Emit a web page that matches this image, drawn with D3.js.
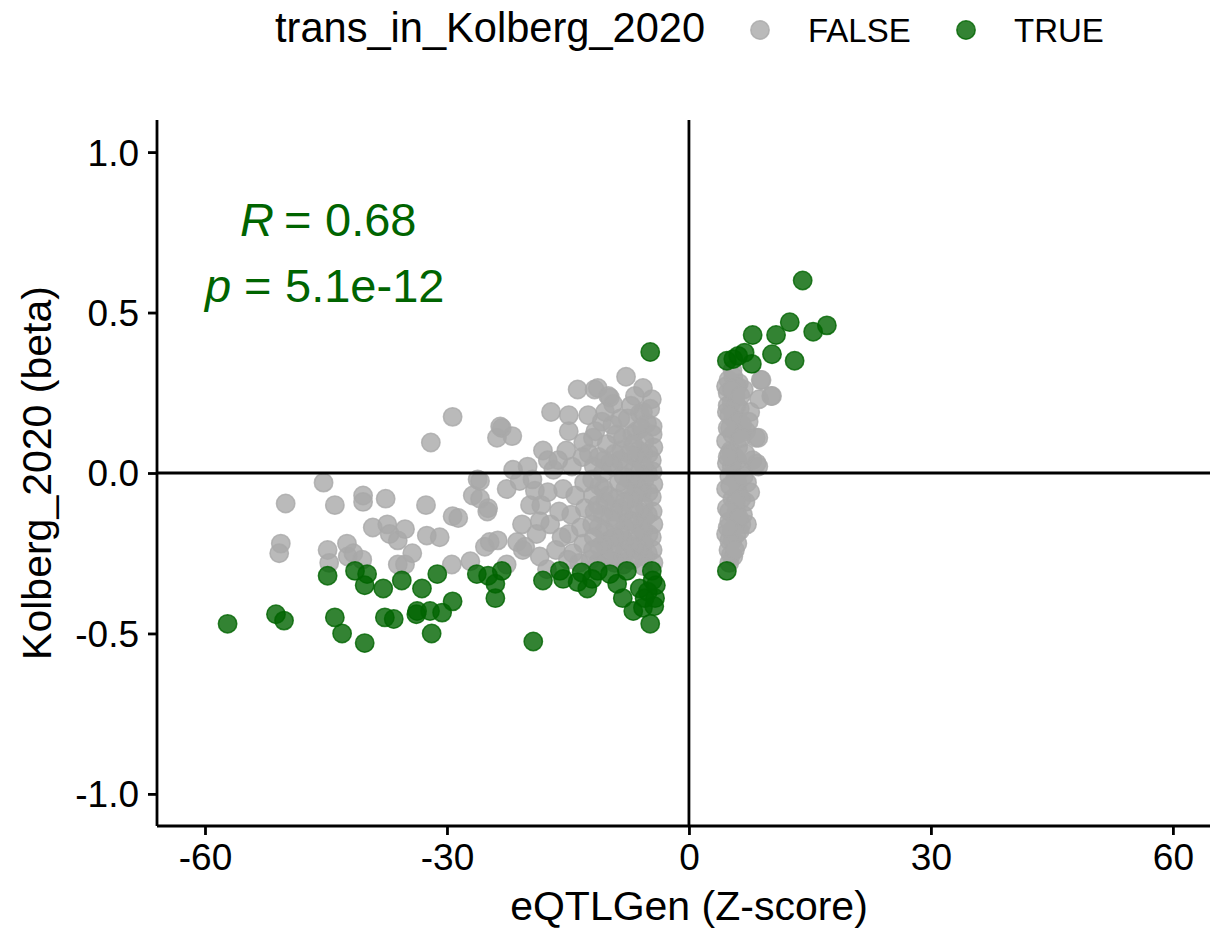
<!DOCTYPE html>
<html>
<head>
<meta charset="utf-8">
<script src="https://cdn.jsdelivr.net/npm/d3@7"></script>
<style>
  body { margin: 0; background: #fff; }
  svg { display: block; font-family: "Liberation Sans", Arial, sans-serif; }
</style>
</head>
<body>
<div id="chart"></div>
<script>
// eQTLGen Z-score vs Kolberg_2020 beta
const groups = ["FALSE", "TRUE"];
const groupColors = ["#a9a9a9", "#006400"];
const xTicks = [-60, -30, 0, 30, 60];
const yTicks = [-1.0, -0.5, 0.0, 0.5, 1.0];

// not trans in Kolberg_2020 (grey)
const falsePoints = [
  // sparse left part
  [-45.3,-0.03],[-50.0,-0.095],[-43.9,-0.10],[-50.6,-0.22],[-50.8,-0.25],[-44.8,-0.24],[-44.6,-0.28],
  [-42.4,-0.22],[-42.3,-0.26],[-40.4,-0.07],[-40.4,-0.09],[-37.6,-0.08],[-32.6,-0.10],[-29.3,0.175],
  [-32.0,0.095],[-29.3,-0.135],[-28.6,-0.14],[-25.0,-0.12],[-26.2,-0.02],[-26.8,-0.07],[-39.2,-0.17],
  [-37.4,-0.16],[-37.1,-0.19],[-36.1,-0.21],[-35.2,-0.175],[-32.5,-0.195],[-30.9,-0.20],[-41.6,-0.25],
  [-40.5,-0.27],[-36.1,-0.285],[-35.2,-0.285],[-34.3,-0.25],[-29.4,-0.285],[-27.1,-0.275],[-25.3,-0.23],
  // middle
  [-23.8,0.11],[-23.2,0.14],[-21.9,0.115],[-23.4,0.145],[-17.1,0.19],[-14.9,0.18],[-12.5,0.18],
  [-13.8,0.26],[-11.7,0.26],[-14.9,0.13],[-13.1,0.095],[-18.1,0.07],[-17.5,0.04],[-21.8,0.01],
  [-20.0,0.02],[-25.9,-0.025],[-22.6,-0.05],[-24.9,-0.11],[-20.7,-0.16],[-24.7,-0.215],[-23.7,-0.21],
  [-21.3,-0.215],[-20.6,-0.24],[-25.9,-0.08],[-22.6,-0.285],[-17.6,-0.30],[-21.0,-0.025],[-19.1,-0.055],
  [-19.7,-0.10],[-18.5,-0.15],[-20.3,-0.23],[-18.5,-0.26],
  // upper edge of the dense block
  [-7.8,0.30],[-5.7,0.265],[-6.7,0.24],[-11.3,0.265],[-9.8,0.235],[-9.5,0.15],[-5.7,0.19],[-4.5,0.145],
  [-11.9,0.11],[-8.2,0.11],[-10.0,0.24],[-9.4,0.215],[-6.1,0.185],[-5.2,0.155],[-10.8,0.16],[-9.0,0.12],
  [-7.6,0.17],[-6.5,0.13],[-8.4,0.07],[-10.2,0.09],[-11.6,0.13],[-12.4,0.06],[-4.6,0.23],[-4.8,0.20],
  [-13.2,0.05],[-14.5,0.02],[-13.0,-0.03],[-14.1,-0.07],[-12.9,-0.11],[-14.6,-0.13],[-13.4,-0.17],
  [-14.9,-0.19],[-13.1,-0.22],[-14.4,-0.25],[-15.6,-0.05],[-16.1,-0.12],[-15.8,-0.20],[-16.5,-0.24],
  [-17.2,-0.16],[-17.5,-0.06],[-16.8,0.01],[-18.3,-0.10],[-18.9,-0.19],[-19.4,-0.02],[-15.2,0.07],
  [-16.2,0.04],[-15.0,-0.27],[-13.6,-0.28],[-12.2,-0.27],
  [-7.2,0.21],[-8.5,0.17],[-10.4,0.19],[-7.0,0.12],[-5.9,0.14],
  // dense block near -5
  [-4.5,0.12],[-4.4,0.08],[-4.6,0.04],[-4.5,0.005],[-4.4,-0.035],[-4.6,-0.075],[-4.5,-0.12],[-4.4,-0.16],
  [-4.6,-0.20],[-4.5,-0.24],[-4.4,-0.28],
  [-5.0,0.06],[-5.1,0.0],[-5.0,-0.06],[-5.1,-0.13],[-5.0,-0.19],[-5.1,-0.25],
  [-5.5,0.10],[-5.7,0.06],[-5.6,0.02],[-5.5,-0.02],[-5.8,-0.06],[-5.6,-0.10],[-5.5,-0.14],[-5.7,-0.18],
  [-5.6,-0.22],[-5.5,-0.26],[-5.7,-0.29],
  [-6.2,0.07],[-6.2,0.0],[-6.3,-0.05],[-6.2,-0.12],[-6.1,-0.17],[-6.3,-0.24],
  [-6.9,0.09],[-6.7,0.05],[-6.8,0.01],[-6.9,-0.03],[-6.7,-0.07],[-6.8,-0.11],[-6.9,-0.15],[-6.7,-0.19],
  [-6.8,-0.23],[-6.9,-0.27],
  [-7.4,0.06],[-7.4,-0.02],[-7.3,-0.08],[-7.5,-0.15],[-7.4,-0.22],[-7.3,-0.27],
  [-8.0,0.03],[-8.1,-0.01],[-7.9,-0.05],[-8.0,-0.09],[-8.2,-0.13],[-7.9,-0.17],[-8.1,-0.21],[-8.0,-0.25],
  [-8.1,-0.285],
  [-8.6,0.04],[-8.7,-0.03],[-8.6,-0.11],[-8.5,-0.19],[-8.7,-0.26],
  [-9.2,0.06],[-9.4,0.02],[-9.1,-0.08],[-9.4,-0.12],[-9.2,-0.16],[-9.3,-0.20],[-9.4,-0.24],[-9.2,-0.28],
  [-9.9,0.03],[-10.0,-0.07],[-9.8,-0.14],[-9.9,-0.21],[-9.9,-0.27],
  [-10.5,0.04],[-10.7,0.0],[-10.6,-0.05],[-10.4,-0.09],[-10.7,-0.13],[-10.5,-0.18],[-10.6,-0.22],[-10.4,-0.26],
  [-11.2,0.05],[-11.1,-0.04],[-11.3,-0.10],[-11.2,-0.17],[-11.1,-0.23],[-11.3,-0.28],
  [-11.8,0.02],[-12.0,-0.02],[-11.9,-0.07],[-11.7,-0.12],[-12.0,-0.16],[-11.8,-0.20],[-11.9,-0.24],
  // column near +5
  [4.9,0.29],[5.5,0.30],[6.2,0.28],[8.9,0.29],[10.2,0.24],[8.7,0.23],[6.8,0.26],[4.8,0.25],[5.3,0.22],
  [5.8,0.24],[6.3,0.20],[4.7,0.19],[5.5,0.17],[6.6,0.15],[5.1,0.14],[6.0,0.12],[4.6,0.10],[6.1,0.08],
  [8.3,0.11],[5.2,0.07],[5.7,0.05],[7.9,0.04],[4.7,0.03],[6.4,0.01],[8.4,0.03],[5.0,-0.01],[5.7,-0.02],
  [7.2,-0.03],[4.6,-0.05],[6.1,-0.06],[5.4,-0.08],[7.0,-0.09],[4.7,-0.11],[5.9,-0.12],[6.7,-0.13],
  [5.0,-0.15],[5.6,-0.17],[6.3,-0.18],[4.6,-0.19],[5.4,-0.21],[6.0,-0.22],[4.9,-0.24],[5.5,-0.26],
  [5.2,-0.255],[6.5,-0.16],[7.1,0.13],[6.0,0.27],[7.6,0.19],[4.8,0.21],[8.6,0.11],[8.6,0.02],
  [7.6,-0.06],[7.2,-0.16],[10.3,0.24],[9.0,0.29],[5.0,-0.28],[5.4,0.32],[4.6,0.27],
  [5.3,0.26],[5.9,0.21],[5.0,0.18],[6.1,0.16],[5.4,0.12],[5.0,0.06],[6.0,0.04],[5.3,0.02],[6.0,-0.03],
  [5.1,-0.04],[6.5,-0.08],[5.8,-0.09],[5.0,-0.12],[6.2,-0.14],[5.3,-0.18],[5.9,-0.19],[5.0,-0.21],
  [5.7,-0.24],[4.8,0.14],[6.4,0.24],[7.0,0.06],[6.8,-0.01],[7.4,0.16],[4.8,-0.17],[4.8,0.05],[6.5,0.11]
];

// trans in Kolberg_2020 (green)
const truePoints = [
  [-57.2,-0.47],[-51.2,-0.44],[-50.2,-0.46],[-44.8,-0.32],[-43.9,-0.45],[-43.0,-0.50],[-41.4,-0.305],
  [-39.9,-0.315],[-40.2,-0.35],[-37.9,-0.36],[-35.6,-0.335],[-33.1,-0.36],[-31.2,-0.315],[-26.3,-0.315],
  [-40.2,-0.53],[-37.7,-0.45],[-36.6,-0.455],[-33.7,-0.43],[-33.8,-0.44],[-32.1,-0.43],[-30.6,-0.435],
  [-29.3,-0.40],[-31.9,-0.50],[-24.9,-0.32],[-23.2,-0.305],[-24.0,-0.345],[-24.0,-0.39],[-18.1,-0.335],
  [-16.0,-0.305],[-15.6,-0.33],[-13.8,-0.34],[-13.3,-0.31],[-12.6,-0.36],[-11.3,-0.305],[-19.3,-0.525],
  [-4.8,0.377],[-9.8,-0.315],[-7.7,-0.305],[-8.2,-0.39],[-6.9,-0.43],[-6.1,-0.36],[-4.6,-0.305],
  [-4.5,-0.335],[-4.2,-0.39],[-4.8,-0.47],[-5.7,-0.42],[-12.0,-0.33],[-8.9,-0.345],[-5.1,-0.37],
  [-4.3,-0.415],[-5.5,-0.39],[-4.1,-0.35],
  [14.1,0.60],[12.5,0.47],[10.8,0.43],[7.9,0.43],[15.4,0.44],[17.1,0.46],[10.3,0.37],[13.1,0.35],
  [6.9,0.375],[4.7,0.35],[5.5,0.355],[7.8,0.34],[6.1,0.365],[4.7,-0.305]
];

const W = 1210, H = 931;
const plot = {left: 157, right: 1210, top: 120, bottom: 826};
const R_PT = 9.2;

const svg = d3.select("#chart").append("svg")
  .attr("width", W)
  .attr("height", H);

const x = d3.scaleLinear().domain([-65.95, 64.6]).range([plot.left, plot.right]);
const y = d3.scaleLinear().domain([-1.1, 1.1]).range([plot.bottom, plot.top]);

// points
const allPoints = falsePoints.map(d => ({x: d[0], y: d[1], g: 0}))
  .concat(truePoints.map(d => ({x: d[0], y: d[1], g: 1})));

svg.append("g")
  .selectAll("circle")
  .data(allPoints)
  .enter()
  .append("circle")
  .attr("cx", d => x(d.x))
  .attr("cy", d => y(d.y))
  .attr("r", R_PT)
  .attr("fill", d => groupColors[d.g])
  .attr("fill-opacity", 0.8)
  .attr("stroke", d => groupColors[d.g])
  .attr("stroke-opacity", 0.8)
  .attr("stroke-width", 1.5);

// zero lines, drawn over the points
svg.append("line")
  .attr("x1", plot.left).attr("x2", plot.right)
  .attr("y1", y(0)).attr("y2", y(0))
  .attr("stroke", "black").attr("stroke-width", 2.8);
svg.append("line")
  .attr("x1", x(0)).attr("x2", x(0))
  .attr("y1", plot.top).attr("y2", plot.bottom)
  .attr("stroke", "black").attr("stroke-width", 2.8);

// axes
const xAxis = svg.append("g")
  .attr("transform", "translate(0," + plot.bottom + ")")
  .call(d3.axisBottom(x).tickValues(xTicks).tickSize(9).tickPadding(8));
const yAxis = svg.append("g")
  .attr("transform", "translate(" + plot.left + ",0)")
  .call(d3.axisLeft(y).tickValues(yTicks).tickSize(9).tickPadding(9));

[xAxis, yAxis].forEach(a => {
  a.select(".domain").attr("stroke", "black").attr("stroke-width", 2.8)
    .attr("d", a === xAxis ? "M" + plot.left + ",0H" + plot.right : "M0," + plot.top + "V" + plot.bottom);
  a.selectAll(".tick line").attr("stroke", "black").attr("stroke-width", 2.8);
  a.selectAll(".tick text")
    .attr("fill", "black")
    .style("font-size", "37px")
    .style("font-family", "'Liberation Sans', Arial, sans-serif");
});
xAxis.selectAll(".tick text").attr("dy", "0.72em").text(d => String(d));
yAxis.selectAll(".tick text").attr("dy", "0.35em").text(d => d.toFixed(1));

// axis titles
svg.append("text")
  .attr("x", 689)
  .attr("y", 920)
  .attr("text-anchor", "middle")
  .style("font-size", "41px")
  .text("eQTLGen (Z-score)");
svg.append("text")
  .attr("transform", "translate(51," + (plot.top + plot.bottom) / 2 + ") rotate(-90)")
  .attr("text-anchor", "middle")
  .style("font-size", "41px")
  .text("Kolberg_2020 (beta)");

// correlation annotation (plotmath-like spacing)
const ann = svg.append("g").attr("fill", "#006400").style("font-size", "47px");
const t1 = ann.append("text").attr("y", 236);
t1.append("tspan").attr("x", 240).style("font-style", "italic").text("R");
t1.append("tspan").attr("x", 284).text("=");
t1.append("tspan").attr("x", 325).text("0.68");
const t2 = ann.append("text").attr("y", 302);
t2.append("tspan").attr("x", 205).style("font-style", "italic").text("p");
t2.append("tspan").attr("x", 244).text("=");
t2.append("tspan").attr("x", 285).text("5.1e-12");

// legend
const legend = svg.append("g");
legend.append("text")
  .attr("x", 275).attr("y", 42)
  .style("font-size", "41.6px")
  .text("trans_in_Kolberg_2020");
const legX = [760, 966];
groups.forEach((g, i) => {
  legend.append("circle")
    .attr("cx", legX[i]).attr("cy", 30).attr("r", R_PT)
    .attr("fill", groupColors[i]).attr("fill-opacity", 0.8)
    .attr("stroke", groupColors[i]).attr("stroke-opacity", 0.8).attr("stroke-width", 1.5);
  legend.append("text")
    .attr("x", legX[i] + 48).attr("y", 42)
    .style("font-size", "33px")
    .text(g);
});
</script>
</body>
</html>
